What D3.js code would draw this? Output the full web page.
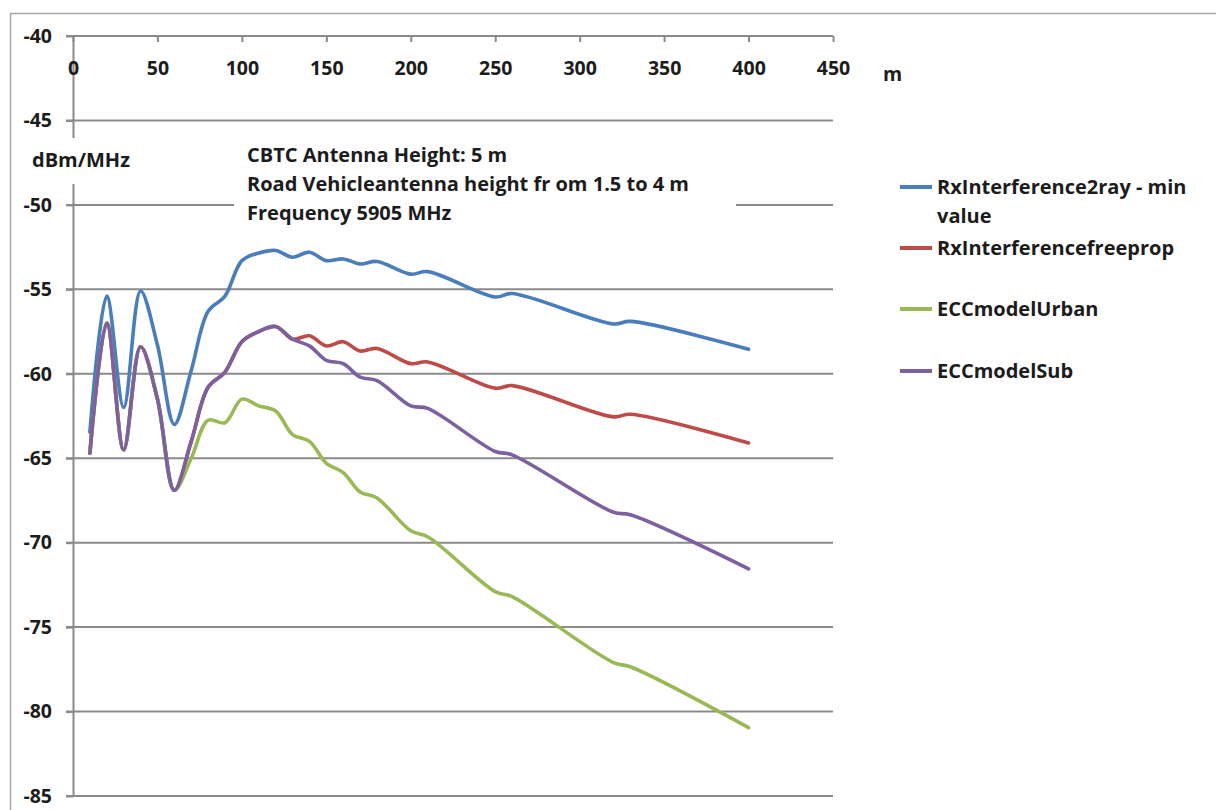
<!DOCTYPE html>
<html lang="en">
<head>
    <meta charset="UTF-8">
    <title>Rx interference vs distance</title>
    <script src="https://d3js.org/d3.v7.min.js"></script>
    <style>
        body {
            margin: 0;
            background: #ffffff;
        }
        svg text {
            font-family: 'Open Sans', 'Lato', sans-serif;
            font-weight: 700;
            fill: #1c1c1c;
        }
    </style>
</head>
<body>
    <svg id="chart" width="1216" height="810"></svg>

    <script>
        // distance in metres (shared by all series)
        const distances = [10, 20, 30, 40, 50, 60, 70, 80, 90, 100, 110, 120, 130, 140,
            150, 160, 170, 180, 200, 210, 250, 260, 320, 330, 400];

        const rx2ray = [-63.45, -55.4, -62.0, -55.1, -58.3, -63.0, -59.8, -56.3, -55.4, -53.3,
            -52.85, -52.7, -53.1, -52.8, -53.3, -53.2, -53.5, -53.35, -54.1, -53.95,
            -55.45, -55.25, -57.05, -56.9, -58.55];

        const rxFreeProp = [-64.7, -57.0, -64.5, -58.4, -61.5, -66.9, -64.0, -60.8, -59.9, -58.1,
            -57.5, -57.2, -57.95, -57.75, -58.35, -58.1, -58.65, -58.5, -59.4, -59.3,
            -60.85, -60.7, -62.55, -62.4, -64.1];

        const eccUrban = [-64.7, -57.0, -64.5, -58.4, -61.5, -66.9, -65.0, -62.75, -62.9, -61.5,
            -61.9, -62.2, -63.6, -64.0, -65.3, -65.85, -67.0, -67.35, -69.3, -69.65,
            -72.9, -73.2, -77.1, -77.35, -80.95];

        const eccSub = [-64.7, -57.0, -64.5, -58.4, -61.5, -66.9, -64.0, -60.8, -59.9, -58.1,
            -57.5, -57.2, -57.95, -58.35, -59.2, -59.4, -60.2, -60.4, -61.9, -62.05,
            -64.6, -64.8, -68.2, -68.35, -71.55];

        const seriesNames = ['RxInterference2ray - min value', 'RxInterferencefreeprop', 'ECCmodelUrban', 'ECCmodelSub'];
        const seriesColors = ['#4a7ebb', '#be4b48', '#98b954', '#7d60a0'];
        const seriesValues = [rx2ray, rxFreeProp, eccUrban, eccSub];

        const xTicks = [0, 50, 100, 150, 200, 250, 300, 350, 400, 450];
        const yTicks = [-40, -45, -50, -55, -60, -65, -70, -75, -80, -85];

        const noteLines = ['CBTC Antenna Height: 5 m', 'Road Vehicleantenna height fr om 1.5 to 4 m', 'Frequency 5905 MHz'];

        const svg = d3.select('#chart');
        const gridColor = '#8a8a8a';

        const x = d3.scaleLinear().domain([0, 450]).range([73, 833]);
        const y = d3.scaleLinear().domain([-85, -40]).range([796, 36]);

        // outer chart frame (cut off on right and bottom)
        svg.append('path')
            .attr('d', 'M10.5,812 V13.5 H1218')
            .attr('fill', 'none')
            .attr('stroke', '#a6a6a6')
            .attr('stroke-width', 1.5);

        // horizontal gridlines, starting at the tick mark
        svg.append('g')
            .selectAll('line')
            .data(yTicks)
            .join('line')
            .attr('x1', x(0) - 7)
            .attr('x2', x(450))
            .attr('y1', d => y(d))
            .attr('y2', d => y(d))
            .attr('stroke', gridColor)
            .attr('stroke-width', 2);

        // y axis (plain hyphen for the minus sign, like the original)
        const yAxis = svg.append('g')
            .attr('transform', `translate(${x(0)},0)`)
            .call(d3.axisLeft(y).tickValues(yTicks).tickFormat(d => String(d))
                .tickSize(7).tickSizeOuter(0).tickPadding(14));
        yAxis.select('.domain').attr('stroke', gridColor).attr('stroke-width', 2);
        yAxis.selectAll('.tick line').attr('stroke', gridColor).attr('stroke-width', 2);
        yAxis.selectAll('text').attr('font-size', 19.5).attr('fill', '#1c1c1c');

        // x axis sits on the -40 line at the top
        const xAxis = svg.append('g')
            .attr('transform', `translate(0,${y(-40)})`)
            .call(d3.axisBottom(x).tickValues(xTicks).tickSize(6).tickSizeOuter(0).tickPadding(19));
        xAxis.select('.domain').remove();
        xAxis.selectAll('.tick line').attr('stroke', gridColor).attr('stroke-width', 2);
        xAxis.selectAll('text').attr('font-size', 19.5).attr('fill', '#1c1c1c');

        svg.append('text')
            .attr('x', 883)
            .attr('y', 81)
            .attr('font-size', 19.5)
            .text('m');

        // y axis title with white box over the axis line
        svg.append('rect')
            .attr('x', 30).attr('y', 138)
            .attr('width', 110).attr('height', 46)
            .attr('fill', '#ffffff');
        svg.append('text')
            .attr('x', 32)
            .attr('y', 167)
            .attr('font-size', 20)
            .text('dBm/MHz');

        // annotation box covering the -50 gridline
        svg.append('rect')
            .attr('x', 234).attr('y', 136)
            .attr('width', 502).attr('height', 90)
            .attr('fill', '#ffffff');
        svg.append('g')
            .selectAll('text')
            .data(noteLines)
            .join('text')
            .attr('x', 247)
            .attr('y', (d, i) => 162 + i * 29)
            .attr('font-size', 20)
            .text(d => d);

        // series
        const line = d3.line()
            .x((d, i) => x(distances[i]))
            .y(d => y(d))
            .curve(d3.curveCatmullRom.alpha(0.5));

        svg.append('g')
            .selectAll('path')
            .data(seriesValues)
            .join('path')
            .attr('d', d => line(d))
            .attr('fill', 'none')
            .attr('stroke', (d, i) => seriesColors[i])
            .attr('stroke-width', 3.6)
            .attr('stroke-linejoin', 'round')
            .attr('stroke-linecap', 'round');

        // legend
        const legendY = [187, 248, 309, 371];
        const legend = svg.append('g');
        seriesNames.forEach((name, i) => {
            legend.append('line')
                .attr('x1', 900).attr('x2', 932)
                .attr('y1', legendY[i]).attr('y2', legendY[i])
                .attr('stroke', seriesColors[i])
                .attr('stroke-width', 4);
            const words = i === 0 ? ['RxInterference2ray - min', 'value'] : [name];
            words.forEach((w, j) => {
                legend.append('text')
                    .attr('x', 937)
                    .attr('y', legendY[i] + 7 + j * 29)
                    .attr('font-size', 20)
                    .text(w);
            });
        });
    </script>
</body>
</html>
